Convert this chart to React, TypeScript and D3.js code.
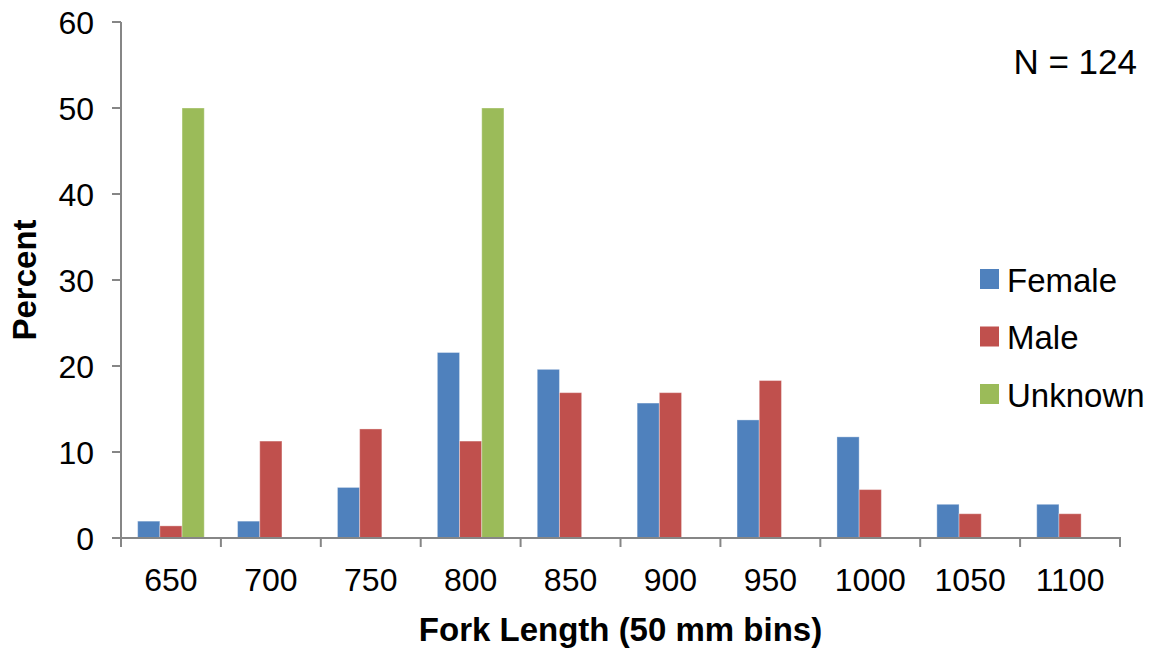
import React from "react";
import * as d3 from "d3";

const categories = ["650", "700", "750", "800", "850", "900", "950", "1000", "1050", "1100"];
const femaleValues = [1.96, 1.96, 5.88, 21.57, 19.61, 15.69, 13.73, 11.76, 3.92, 3.92];
const maleValues = [1.41, 11.27, 12.68, 11.27, 16.9, 16.9, 18.31, 5.63, 2.82, 2.82];
const unknownValues = [50, 0, 0, 50, 0, 0, 0, 0, 0, 0];
const seriesNames = ["Female", "Male", "Unknown"];
const seriesColors = ["#4F81BD", "#C0504D", "#9BBB59"];
const yTicks = [0, 10, 20, 30, 40, 50, 60];

const W = 1156;
const H = 651;
const left = 121;
const right = 1120;
const top = 22;
const bottom = 538;
const font = "'Liberation Sans', Arial, sans-serif";
const axisColor = "#868686";

export default function App() {
  const series = [femaleValues, maleValues, unknownValues];
  const x = d3.scaleBand<string>().domain(categories).range([left, right]).paddingInner(1 / 3).paddingOuter(1 / 6);
  const band = d3.scaleBand<string>().domain(categories).range([left, right]);
  const sub = d3.scaleBand<number>().domain([0, 1, 2]).range([0, x.bandwidth()]);
  const y = d3.scaleLinear().domain([0, 60]).range([bottom, top]);

  const boundaries = categories.map((c) => band(c) as number).concat([right]);

  return (
    <svg width={W} height={H} style={{ position: "absolute", left: 0, top: 0, background: "#fff" }} fontFamily={font}>
      {series.map((vals, si) =>
        vals.map((v, i) =>
          v > 0 ? (
            <rect
              key={`${si}-${i}`}
              x={(x(categories[i]) as number) + (sub(si) as number)}
              y={y(v)}
              width={sub.bandwidth()}
              height={bottom - y(v)}
              fill={seriesColors[si]}
              stroke="rgba(255,255,255,0.35)"
              strokeWidth={1}
            />
          ) : null
        )
      )}
      {/* y axis */}
      <line x1={left} x2={left} y1={top} y2={bottom} stroke={axisColor} strokeWidth={2} />
      {yTicks.map((t) => (
        <g key={t}>
          <line x1={left - 9} x2={left} y1={y(t)} y2={y(t)} stroke={axisColor} strokeWidth={2} />
          <text x={94} y={y(t) + 11.5} textAnchor="end" fontSize={32} fill="#000">
            {t}
          </text>
        </g>
      ))}
      {/* x axis */}
      <line x1={left} x2={right + 1} y1={bottom} y2={bottom} stroke={axisColor} strokeWidth={2} />
      {boundaries.map((b, i) => (
        <line key={i} x1={b} x2={b} y1={bottom} y2={bottom + 9} stroke={axisColor} strokeWidth={2} />
      ))}
      {categories.map((c) => (
        <text key={c} x={(band(c) as number) + band.bandwidth() / 2} y={591} textAnchor="middle" fontSize={32} fill="#000">
          {c}
        </text>
      ))}
      <text x={(left + right) / 2} y={641} textAnchor="middle" fontSize={33} fontWeight="bold" fill="#000">
        Fork Length (50 mm bins)
      </text>
      <text
        transform={`translate(36, ${(top + bottom) / 2}) rotate(-90)`}
        textAnchor="middle"
        fontSize={33}
        fontWeight="bold"
        fill="#000"
      >
        Percent
      </text>
      <text x={1137} y={74} textAnchor="end" fontSize={35} fill="#000">
        N = 124
      </text>
      {seriesNames.map((n, i) => (
        <g key={n}>
          <rect x={980} y={269 + i * 57.5} width={19} height={20} fill={seriesColors[i]} />
          <text x={1007} y={291.5 + i * 57.5} fontSize={33} fill="#000">
            {n}
          </text>
        </g>
      ))}
    </svg>
  );
}
